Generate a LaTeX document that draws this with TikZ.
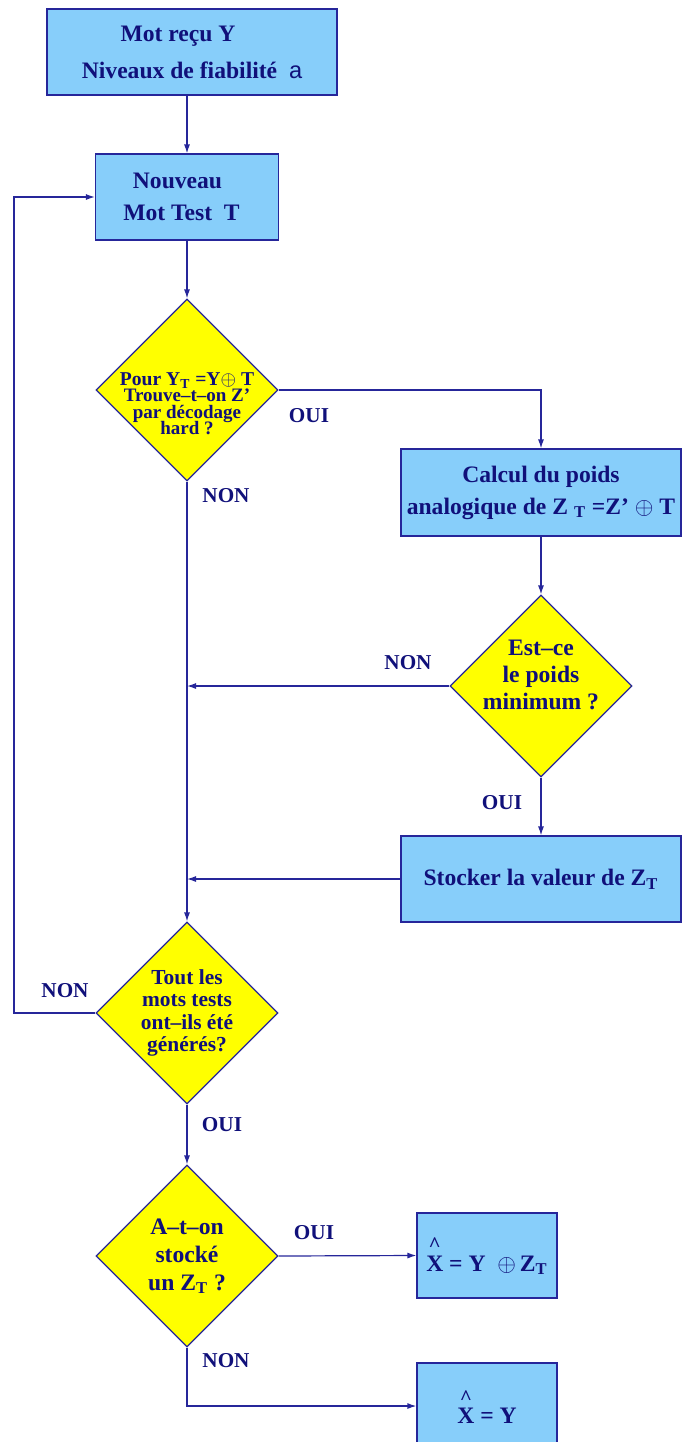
\documentclass[tikz,border=0pt]{standalone}
\usepackage{fontspec}
\setmainfont{Liberation Serif}
\newfontfamily\alphafont{Liberation Sans}
\usetikzlibrary{arrows.meta,shapes.geometric}
\definecolor{navy}{HTML}{10107A}
\definecolor{wire}{HTML}{26269A}
\definecolor{skyfill}{HTML}{87CEFA}
\definecolor{decfill}{HTML}{FFFF00}
\newcommand{\estime}[1]{$\stackrel{\mbox{\fontsize{10.5}{10.5}\selectfont\textasciicircum}}{\mbox{#1}}$}
\newcommand{\serre}{\lineskiplimit=-20pt\relax}
\tikzset{
  box/.style={draw=wire, line width=0.6pt, fill=skyfill, text=navy, align=center, inner sep=0pt, font=\fontsize{11.8}{16}\selectfont\bfseries},
  decision/.style={diamond, draw=wire, line width=0.6pt, fill=decfill, text=navy, align=center, inner sep=-6pt, minimum width=91pt, minimum height=91pt, font=\fontsize{11.8}{14}\selectfont\bfseries},
  answer/.style={text=navy, inner sep=0pt, font=\fontsize{10.6}{12}\selectfont\bfseries},
  arrow/.style={-{Latex[length=4.5pt,width=3pt]}, line width=0.6pt, draw=wire}
}

\begin{document}
\begin{tikzpicture}[x=0.5pt, y=-0.5pt]
  \useasboundingbox (0,0) rectangle (682,1442);
  \node[box, minimum width=145pt, minimum height=43pt, font=\fontsize{11.8}{18.5}\selectfont\bfseries] (recu) at (192,52) {Mot reçu Y\hspace*{14pt}\\Niveaux de fiabilité~~{\alphafont\mdseries a}};
  \node[box, minimum width=91.5pt, minimum height=43pt] (nouveau) at (187,197) {Nouveau\hspace*{9.5pt}\\Mot Test~~T\hspace*{5.5pt}};
  \node[decision, font=\fontsize{9.5}{8.2}\selectfont\bfseries\serre] (hard) at (187,390) {\rule{0pt}{20pt}{\fontsize{9.8}{8.2}\selectfont Pour Y\textsubscript{T} =Y$\oplus$ T}\\Trouve--t--on Z'\\par décodage\\hard ?};
  \node[box, minimum width=140pt, minimum height=43.5pt] (poids) at (541,492.5) {Calcul du poids\\analogique de Z \textsubscript{T} =Z' $\oplus$ T};
  \node[decision, font=\fontsize{11.8}{13.5}\selectfont\bfseries] (minimum) at (541,686) {Est--ce\\le poids\\minimum ?\rule[-11pt]{0pt}{0pt}};
  \node[box, minimum width=140pt, minimum height=43pt] (stocker) at (541,879) {Stocker la valeur de Z\textsubscript{T}};
  \node[decision, font=\fontsize{10.7}{11.25}\selectfont\bfseries] (generes) at (187,1013) {Tout les\\mots tests\\ont--ils été\\générés?};
  \node[decision] (stocke) at (187,1256) {A--t--on\\stocké\\un Z\textsubscript{T} ?};
  \node[box, minimum width=70pt, minimum height=42.5pt] (avecz) at (487,1255.5) {\estime{X} = Y~~$\oplus$\,Z\textsubscript{T}};
  \node[box, minimum width=70pt, minimum height=43pt] (sansz) at (487,1406) {\estime{X} = Y};

  \node[answer] (oui1) at (309,416) {OUI};
  \node[answer] (non1) at (226,496) {NON};
  \node[answer] (non2) at (408,663) {NON};
  \node[answer] (oui2) at (502,803) {OUI};
  \node[answer] (non3) at (65,991) {NON};
  \node[answer] (oui3) at (222,1125) {OUI};
  \node[answer] (oui4) at (314,1233) {OUI};
  \node[answer] (non4) at (226,1361) {NON};

  \draw[arrow] (recu.south -| nouveau.north) -- (nouveau.north);
  \draw[arrow] (nouveau.south) -- (hard.north);
  \draw[arrow] (hard.east) -| (poids.north);
  \draw[arrow] (poids.south) -- (minimum.north);
  \draw[arrow] (hard.south) -- (generes.north);
  \draw[arrow] (minimum.west) -- (minimum.west -| hard.south);
  \draw[arrow] (minimum.south) -- (stocker.north);
  \draw[arrow] (stocker.west) -- (stocker.west -| hard.south);
  \coordinate (retour) at (14,1013);
  \draw[arrow] (generes.west) -- (retour) |- (nouveau.west);
  \draw[arrow] (generes.south) -- (stocke.north);
  \draw[arrow] (stocke.east) -- (avecz.west);
  \draw[arrow] (stocke.south) |- (sansz.west);
\end{tikzpicture}
\end{document}
